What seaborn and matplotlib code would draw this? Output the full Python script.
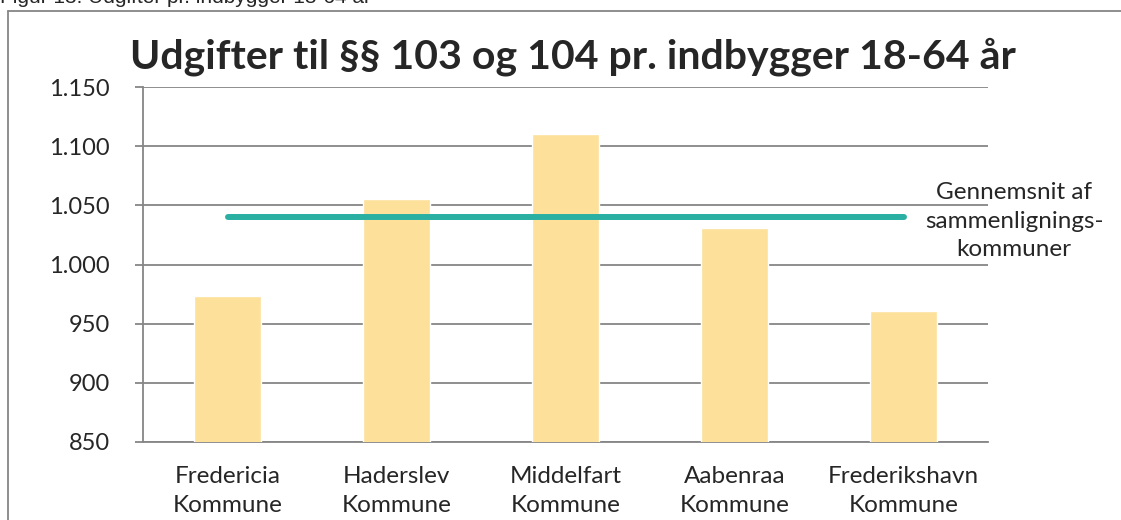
import matplotlib
matplotlib.use("Agg")
import matplotlib.pyplot as plt
from matplotlib.ticker import FuncFormatter, FixedLocator
from matplotlib.lines import Line2D
import seaborn as sns
import pandas as pd

# data
kommuner = ["Fredericia\nKommune", "Haderslev\nKommune", "Middelfart\nKommune",
            "Aabenraa\nKommune", "Frederikshavn\nKommune"]
udgifter = [973, 1055, 1110, 1031, 961]
gennemsnit = 1040
gennemsnit_tekst = "Gennemsnit af\nsammenlignings-\nkommuner"
titel = "Udgifter til §§ 103 og 104 pr. indbygger 18-64 år"
figurtekst = "Figur 13: Udgifter pr. indbygger 18-64 år"
y_ticks = [850, 900, 950, 1000, 1050, 1100, 1150]

df = pd.DataFrame({"kommune": kommuner, "udgift": udgifter})

sns.set_style("white")
plt.rcParams["font.family"] = ["Lato", "DejaVu Sans"]

W, H = 1121, 520
fig = plt.figure(figsize=(W / 100, H / 100), dpi=100)
ax = fig.add_axes([143 / W, 1 - 442 / H, (988 - 143) / W, (442 - 87) / H])

grid_col = "#868686"
sns.barplot(data=df, x="kommune", y="udgift", color="#FDE19A", saturation=1,
            width=0.4, ax=ax, zorder=3)
ax.plot(range(len(kommuner)), [gennemsnit] * len(kommuner), color="#2AAFA3",
        lw=4.3, solid_capstyle="round", zorder=4)

ax.set_ylim(y_ticks[0], y_ticks[-1])
ax.set_xlim(-0.5, len(kommuner) - 0.5)
ax.yaxis.set_major_locator(FixedLocator(y_ticks))
ax.yaxis.set_major_formatter(FuncFormatter(lambda v, p: f"{v:,.0f}".replace(",", ".")))
ax.grid(axis="y", color=grid_col, lw=1.3, zorder=0)
ax.set_axisbelow(True)

ax.set_xlabel("")
ax.set_ylabel("")
for s in ["top", "right"]:
    ax.spines[s].set_visible(False)
for s in ["left", "bottom"]:
    ax.spines[s].set_color(grid_col)
    ax.spines[s].set_linewidth(1.3)

ax.set_xticks([i - 0.5 for i in range(len(kommuner) + 1)], minor=True)
ax.tick_params(axis="x", which="major", length=0, pad=17, labelsize=17.5)
ax.tick_params(axis="x", which="minor", length=6, width=1.3, color=grid_col, direction="out")
ax.tick_params(axis="y", length=6, width=1.3, color=grid_col, pad=18, labelsize=17,
               left=True)
for lab in ax.get_xticklabels():
    lab.set_linespacing(1.5)

fig.text(573 / W, 1 - 68 / H, titel, ha="center", va="baseline",
         fontsize=29.5, fontweight="bold")
fig.text(1014 / W, 1 - 221 / H, gennemsnit_tekst, ha="center", va="center",
         fontsize=17.5, linespacing=1.45)

# figure caption above the frame (cut off at the top edge)
fig.text(0 / W, 1 - 3 / H, figurtekst, ha="left", va="baseline", fontsize=15,
         family=["Liberation Sans", "DejaVu Sans"])

# frame around the figure
fig.add_artist(Line2D([8 / W, 8 / W], [0, 1 - 11 / H], color=grid_col, lw=1.3,
                      transform=fig.transFigure))
fig.add_artist(Line2D([8 / W, 1], [1 - 11 / H, 1 - 11 / H], color=grid_col, lw=1.3,
                      transform=fig.transFigure))

fig.savefig("out.png", dpi=100)
